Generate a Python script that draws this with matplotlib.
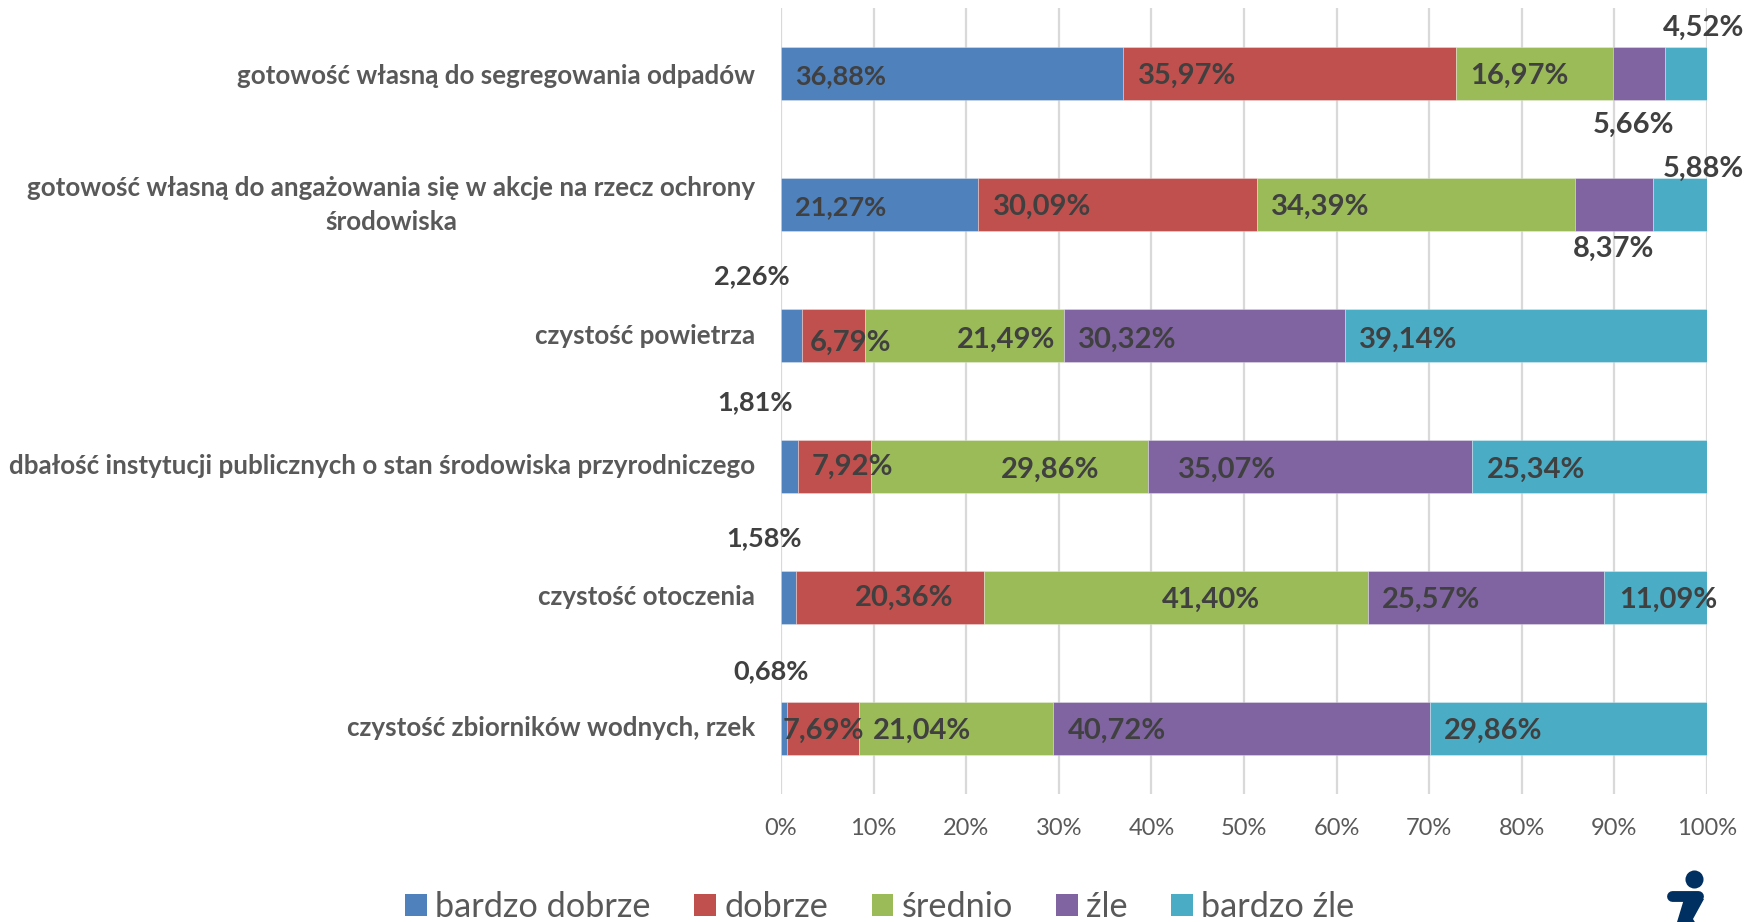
import matplotlib
matplotlib.use("Agg")
import matplotlib.pyplot as plt
from matplotlib.patches import Polygon, Patch
from matplotlib.transforms import ScaledTranslation
import numpy as np

plt.rcParams['font.family'] = ['Lato', 'DejaVu Sans']

categories = [
    "gotowość własną do segregowania odpadów",
    "gotowość własną do angażowania się w akcje na rzecz ochrony\nśrodowiska",
    "czystość powietrza",
    "dbałość instytucji publicznych o stan środowiska przyrodniczego",
    "czystość otoczenia",
    "czystość zbiorników wodnych, rzek",
]
series_names = ["bardzo dobrze", "dobrze", "średnio", "źle", "bardzo źle"]
bardzo_dobrze = [36.88, 21.27, 2.26, 1.81, 1.58, 0.68]
dobrze = [35.97, 30.09, 6.79, 7.92, 20.36, 7.69]
srednio = [16.97, 34.39, 21.49, 29.86, 41.40, 21.04]
zle = [5.66, 8.37, 30.32, 35.07, 25.57, 40.72]
bardzo_zle = [4.52, 5.88, 39.14, 25.34, 11.09, 29.86]
tick_values = [0, 10, 20, 30, 40, 50, 60, 70, 80, 90, 100]

colors = ["#4F81BD", "#C0504D", "#9BBB59", "#8064A2", "#4BACC6"]
label_sizes = [19.5, 21, 21, 21, 21]

# layout: data-label offsets from the centre of each segment (px in the 1568-wide view)
label_dx = [
    [-99, -91, -13, -5, 16],
    [-35, -67, -85, 0, 21],
    [-35, 15, 37.5, -68.5, -105],
    [-30.5, 16, 36, -74, -48],
    [-21.5, 13, 31, -49, 11],
    [-12, 0.6, -30, -111, -67],
]
label_dy = [
    [1, 1, 1, 44.5, -41.5],
    [1, 1, 1, 39, -33],
    [-53.5, 5.5, 2.5, 2.5, 2.5],
    [-58, -1, 2, 2, 2],
    [-53.5, -0.5, 1.5, 1.5, 1.5],
    [-52.5, 1.5, 1.5, 1.5, 1.5],
]
category_lift = [0, 5.5, 1, 2, 2, 2]
VIEW = 1758 / 1568
W, H = 1758, 922

fig = plt.figure(figsize=(W / 100, H / 100), dpi=100, facecolor="white")
ax = fig.add_axes([781 / W, (H - 794) / H, 926 / W, 786 / H])

series = [bardzo_dobrze, dobrze, srednio, zle, bardzo_zle]
y = np.arange(len(categories))
left = np.zeros(len(categories))
for j, (vals, c) in enumerate(zip(series, colors)):
    vals = np.array(vals)
    ax.barh(y, vals, left=left, height=0.4, color=c, edgecolor=(1, 1, 1, 0.35), linewidth=0.6, zorder=3)
    for i, v in enumerate(vals):
        ax.annotate(f"{v:.2f}%".replace(".", ","),
                    xy=(left[i] + v / 2, i),
                    xytext=(label_dx[i][j] * VIEW, -(label_dy[i][j] + 1) * VIEW),
                    textcoords="offset pixels", ha="center", va="center",
                    fontsize=label_sizes[j], fontweight="bold", color="#404040", zorder=5,
                    annotation_clip=False)
    left += vals

ax.set_xlim(0, 100)
ax.set_ylim(len(categories) - 0.5, -0.5)
ax.set_xticks(tick_values)
ax.set_xticklabels([f"{t}%" for t in tick_values], fontsize=17, color="#595959")
ax.set_yticks(y)
ax.set_yticklabels(categories, fontsize=18.7, fontweight="bold", color="#595959",
                   multialignment="center", linespacing=1.5)
ax.tick_params(axis="x", length=0, pad=17.5)
ax.tick_params(axis="y", length=0, pad=18.5)
ax.xaxis.grid(True, color="#D9D9D9", linewidth=1.6, zorder=0)
ax.set_axisbelow(True)
for s in ax.spines.values():
    s.set_visible(False)
for lab, lift in zip(ax.get_yticklabels(), category_lift):
    lab.set_transform(lab.get_transform() + ScaledTranslation(0, lift * VIEW / 100, fig.dpi_scale_trans))

handles = [Patch(facecolor=c, edgecolor="none") for c in colors]
fig.legend(handles, series_names, loc="center", bbox_to_anchor=(880 / W, 1 - 907 / H),
           ncol=5, frameon=False, fontsize=24.7, labelcolor="#595959",
           handlelength=0.62, handleheight=0.62, handletextpad=0.25, columnspacing=1.27)

# logo, cut off by the figure's lower edge
logo = "#002F62"
def px(x, yy):
    return (x / W, 1 - yy / H)
fig.add_artist(plt.Line2D([1672.5 / W, 1698.5 / W], [1 - 895.5 / H, 1 - 895.5 / H], color=logo,
                          linewidth=7.8, solid_capstyle="round"))
fig.add_artist(Polygon([px(1684, 899), px(1704, 899), px(1693, 919), px(1701, 932), px(1674, 932)],
                       closed=True, facecolor=logo, edgecolor="none", transform=fig.transFigure))
fig.add_artist(plt.Line2D([1694.3 / W], [1 - 879 / H], marker="o", markersize=13, color=logo,
                          markeredgewidth=0))

fig.savefig("out.png", dpi=100)
